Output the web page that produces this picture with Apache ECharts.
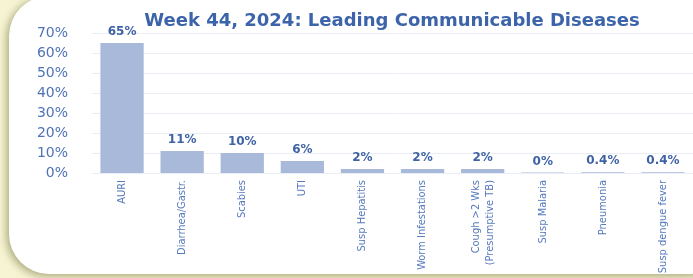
<!DOCTYPE html>
<html>
<head>
<meta charset="utf-8">
<script src="https://cdn.jsdelivr.net/npm/echarts@6/dist/echarts.min.js"></script>
<style>
  html, body { margin: 0; padding: 0; background: #f4f2d0; }
  #chart { width: 693px; height: 278px; }
</style>
</head>
<body>
<div id="chart"></div>
<script>
// data
const categories = [
  "AURI", "Diarrhea/Gastr.", "Scabies", "UTI", "Susp Hepatitis",
  "Worm Infestations", "Cough >2 Wks\n(Presumptive TB)", "Susp Malaria",
  "Pneumonia", "Susp dengue fever"
];
const percents = [65, 11, 10, 6, 2, 2, 2, 0.2, 0.4, 0.4];
const valueLabels = ["65%", "11%", "10%", "6%", "2%", "2%", "2%", "0%", "0.4%", "0.4%"];
const yTicks = [0, 10, 20, 30, 40, 50, 60, 70];

const chart = echarts.init(document.getElementById("chart"));

const option = {
  backgroundColor: "#f6f4d2",
  graphic: [
    {
      type: "rect",
      z: -10,
      shape: { x: 9, y: -4, width: 720, height: 278, r: 40 },
      style: {
        fill: "#ffffff",
        shadowBlur: 8,
        shadowColor: "rgba(110,110,60,0.6)",
        shadowOffsetX: -2,
        shadowOffsetY: 2,
      },
    },
  ],
  title: {
    text: "Week 44, 2024: Leading Communicable Diseases",
    left: 387,
    top: 7,
    textAlign: "center",
    textStyle: {
      fontFamily: "DejaVu Sans",
      fontSize: 18,
      fontWeight: "bold",
      color: "#3c64aa",
    },
  },
  grid: { left: 92, top: 33, width: 607, height: 140 },
  xAxis: {
    type: "category",
    data: categories,
    axisLine: { show: false },
    axisTick: { show: false },
    axisLabel: {
      interval: 0,
      rotate: 90,
      margin: 7,
      fontFamily: "Liberation Sans Narrow, DejaVu Sans Condensed, sans-serif",
      fontSize: 11,
      lineHeight: 14,
      color: "#5579bd",
    },
  },
  yAxis: {
    type: "value",
    min: 0,
    max: 70,
    interval: 10,
    axisLine: { show: false },
    axisTick: { show: false },
    splitLine: { lineStyle: { color: "#e9edf5", width: 1 } },
    axisLabel: {
      margin: 24,
      fontFamily: "DejaVu Sans",
      fontSize: 14,
      color: "#4f73b6",
      formatter: (v) => (yTicks.includes(v) ? v + "%" : ""),
    },
  },
  series: [
    {
      type: "bar",
      data: percents,
      barWidth: "72%",
      itemStyle: { color: "#a9b9da" },
      label: {
        show: true,
        position: "top",
        distance: 5,
        fontFamily: "DejaVu Sans",
        fontSize: 12,
        fontWeight: "bold",
        color: "#3f62a6",
        formatter: (p) => valueLabels[p.dataIndex],
      },
    },
  ],
};

chart.setOption(option);
</script>
</body>
</html>
